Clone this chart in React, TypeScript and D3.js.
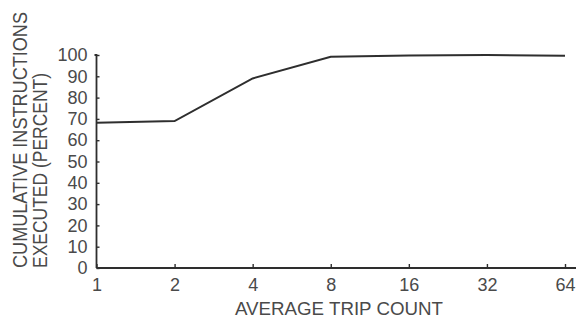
import * as d3 from 'd3';
import React, { useEffect, useRef } from 'react';

const tripCounts = [1, 2, 4, 8, 16, 32, 64];
const cumulativePct = [68.2, 69, 89, 99.2, 99.8, 100, 99.6];
const yTicks = [0, 10, 20, 30, 40, 50, 60, 70, 80, 90, 100];

const xTitle = 'AVERAGE TRIP COUNT';
const yTitle1 = 'CUMULATIVE INSTRUCTIONS';
const yTitle2 = 'EXECUTED (PERCENT)';

function App() {
    const ref = useRef<SVGSVGElement>(null);

    useEffect(() => {
        const svg = d3.select(ref.current);
        svg.selectAll('*').remove();
        const ink = '#2e2e2e';
        const textInk = '#4a4a4a';
        const font = 'Liberation Sans, Arial, sans-serif';

        //scales
        const x = d3.scaleLog().base(2).domain([1, 64]).range([96.5, 565]);
        const y = d3.scaleLinear().domain([0, 100]).range([268, 55]);

        //y axis: ticks point inward
        const yAxis = svg.append('g').attr('transform', 'translate(96.5,0)')
            .call(d3.axisLeft(y).tickValues(yTicks).tickSize(-3).tickPadding(9).tickFormat(d3.format('d')));
        yAxis.select('.domain').attr('stroke', ink).attr('stroke-width', 1.8)
            .attr('d', `M-2,${y(100)}H0V${y(0)}`);
        yAxis.selectAll('line').attr('stroke', ink).attr('stroke-width', 1.4);
        yAxis.selectAll('text').attr('fill', textInk).attr('font-size', 18).attr('font-family', font);

        //x axis
        const xAxis = svg.append('g').attr('transform', 'translate(0,268)')
            .call(d3.axisBottom(x).tickValues(tripCounts).tickSize(-4).tickPadding(10.5).tickFormat(d3.format('d')));
        xAxis.select('.domain').attr('stroke', ink).attr('stroke-width', 1.8)
            .attr('d', `M${x(1)},0H576`);
        xAxis.selectAll('line').attr('stroke', ink).attr('stroke-width', 1.4);
        xAxis.selectAll('text').attr('fill', textInk).attr('font-size', 18).attr('font-family', font);

        //line
        const pts = tripCounts.map((t, i) => [t, cumulativePct[i]] as [number, number]);
        svg.append('path')
            .datum(pts)
            .attr('fill', 'none')
            .attr('stroke', ink)
            .attr('stroke-width', 2)
            .attr('d', d3.line<[number, number]>().x(d => x(d[0])).y(d => y(d[1])));

        //titles
        svg.append('text').attr('x', 339).attr('y', 315).attr('text-anchor', 'middle')
            .attr('font-size', 18.5).attr('font-family', font).attr('fill', textInk)
            .attr('textLength', 208).attr('lengthAdjust', 'spacingAndGlyphs').text(xTitle);
        svg.append('text').attr('transform', 'translate(27,268) rotate(-90)')
            .attr('font-size', 20).attr('font-family', font).attr('fill', textInk)
            .attr('textLength', 256).attr('lengthAdjust', 'spacingAndGlyphs').text(yTitle1);
        svg.append('text').attr('transform', 'translate(47,268) rotate(-90)')
            .attr('font-size', 20).attr('font-family', font).attr('fill', textInk)
            .attr('textLength', 195).attr('lengthAdjust', 'spacingAndGlyphs').text(yTitle2);
    }, []);

    return (
        <svg ref={ref} width={576} height={322}
            style={{ position: 'absolute', left: 0, top: 0, background: '#fff' }} />
    );
}

export default App;
